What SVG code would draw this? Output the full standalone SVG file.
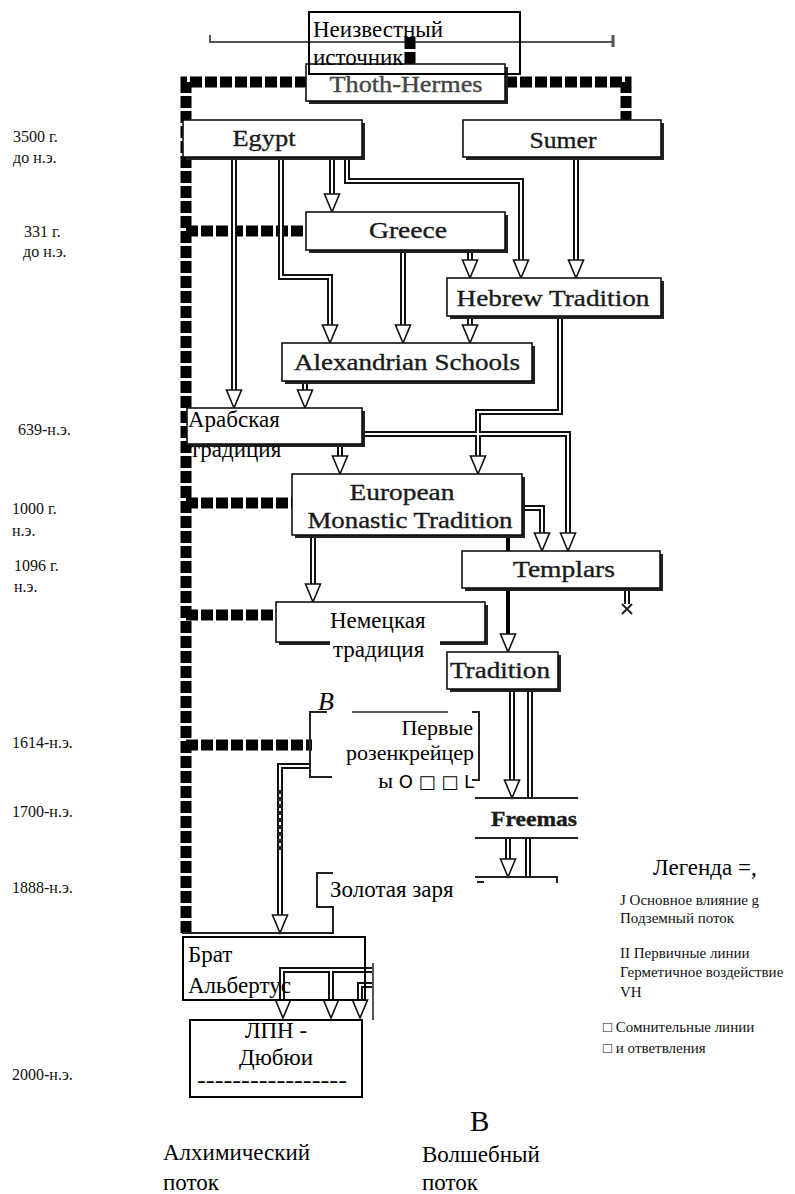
<svg xmlns="http://www.w3.org/2000/svg" xmlns:xlink="http://www.w3.org/1999/xlink" width="795" height="1194" viewBox="0 0 795 1194">
<style>
.bg{fill:#fff}
.box{fill:#fff;stroke:#111;stroke-width:1.6}
.sh{fill:#222}
.ob{fill:none;stroke:#000;stroke-width:2}
.en{font-family:"Liberation Serif","Times New Roman",serif;font-size:23px;fill:#1a1a1a;stroke:#1a1a1a;stroke-width:0.35;text-anchor:middle}
.ru{font-family:"Liberation Serif","Times New Roman",serif;font-size:23px;fill:#000}
.lbl{font-family:"Liberation Serif","Times New Roman",serif;font-size:16px;fill:#111}
.leg{font-family:"Liberation Serif","Times New Roman",serif;font-size:15px;fill:#111}
.dot{fill:none;stroke:#000;stroke-width:11;stroke-dasharray:12 3}
.dbo{fill:none;stroke:#111;stroke-width:6}
.dbi{fill:none;stroke:#fff;stroke-width:2}
.main{fill:none;stroke:#000;stroke-width:4}
.ah{fill:#fff;stroke:#111;stroke-width:1.6;stroke-linejoin:miter}
.thin{fill:none;stroke:#222;stroke-width:2}
.faint{fill:none;stroke:#555;stroke-width:2}
.sub{fill:none;stroke:#222;stroke-width:4;stroke-dasharray:4 3}
</style>
<defs>
<path id="ah" d="M-7.5,-18 H7.5 L0,0 Z"/>
</defs>
<rect class="bg" x="0" y="0" width="795" height="1194"/>

<g id="connectors">
  <path class="faint" d="M210,35 V42 H613 V35"/>
  <path class="faint" d="M613,35 V47" style="stroke-width:3"/>
  <g id="underground">
    <path class="dot" d="M186,933 V82 H306"/>
    <path class="dot" d="M505,82 H626 V127"/>
    <path class="dot" d="M410,37 V64"/>
    <path class="dot" d="M186,231 H306"/>
    <path class="dot" d="M186,503 H292"/>
    <path class="dot" d="M186,615 H276"/>
    <path class="dot" d="M186,745 H312"/>
  </g>
  <g class="dbo">
    <path id="c1" d="M234,157 V390"/>
    <path id="c2" d="M281,157 V277 H330 V325"/>
    <path id="c3" d="M332,157 V194"/>
    <path id="c4" d="M347,157 V181 H521 V260"/>
    <path id="c5" d="M576,157 V260"/>
    <path id="c6" d="M403,250 V325"/>
    <path id="c7" d="M470,250 V260"/>
    <path id="c8" d="M470,316 V325"/>
    <path id="c9" d="M560,316 V412 H478 V456"/>
    <path id="c10" d="M305,381 V390"/>
    <path id="c11" d="M340,444 V456"/>
    <path id="c12" d="M362,434 H568 V533"/>
    <path id="c13" d="M522,508 H542 V533"/>
    <path id="c14" d="M313,535 V584"/>
    <path id="c16" d="M627,588 V604"/>
    <path id="c17" d="M512,689 V780"/>
    <path id="c18" d="M530,689 V798"/>
    <path id="c19" d="M508,838 V859"/>
    <path id="c20" d="M528,838 V877"/>
    <path id="c21" d="M311,766 H280 V915"/>
    <path id="c22" d="M373,970 H282 V1000"/>
    <path id="c23" d="M331,970 V1000"/>
    <path id="c24" d="M373,985 H360 V1000"/>
  </g>
  <g class="dbi">
    <use xlink:href="#c1"/><use xlink:href="#c2"/><use xlink:href="#c3"/><use xlink:href="#c4"/>
    <use xlink:href="#c5"/><use xlink:href="#c6"/><use xlink:href="#c7"/><use xlink:href="#c8"/>
    <use xlink:href="#c9"/><use xlink:href="#c10"/><use xlink:href="#c11"/><use xlink:href="#c12"/>
    <use xlink:href="#c13"/><use xlink:href="#c14"/><use xlink:href="#c16"/><use xlink:href="#c17"/>
    <use xlink:href="#c18"/><use xlink:href="#c19"/><use xlink:href="#c20"/><use xlink:href="#c21"/>
    <use xlink:href="#c22"/><use xlink:href="#c23"/><use xlink:href="#c24"/>
  </g>
  <path class="main" d="M508,535 V634"/>
  <path class="sub" d="M280,790 V853"/>
  <path class="thin" d="M622,604 L632,614 M632,604 L622,614"/>
  <g class="ah">
    <use xlink:href="#ah" x="234" y="408"/>
    <use xlink:href="#ah" x="330" y="343"/>
    <use xlink:href="#ah" x="332" y="212"/>
    <use xlink:href="#ah" x="521" y="278"/>
    <use xlink:href="#ah" x="576" y="278"/>
    <use xlink:href="#ah" x="403" y="343"/>
    <use xlink:href="#ah" x="470" y="278"/>
    <use xlink:href="#ah" x="470" y="343"/>
    <use xlink:href="#ah" x="478" y="474"/>
    <use xlink:href="#ah" x="305" y="408"/>
    <use xlink:href="#ah" x="340" y="474"/>
    <use xlink:href="#ah" x="568" y="551"/>
    <use xlink:href="#ah" x="542" y="551"/>
    <use xlink:href="#ah" x="313" y="602"/>
    <use xlink:href="#ah" x="508" y="652"/>
    <use xlink:href="#ah" x="512" y="798"/>
    <use xlink:href="#ah" x="508" y="877"/>
    <use xlink:href="#ah" x="280" y="933"/>
    <use xlink:href="#ah" x="283" y="1018"/>
    <use xlink:href="#ah" x="331" y="1018"/>
    <use xlink:href="#ah" x="360" y="1018"/>
  </g>
  <path class="thin" d="M475,877 H557 V883 M477,882 H484"/>
  <path class="thin" d="M182,933 H333 V907 H317 V873 H333"/>
  <path class="faint" d="M373,963 V1020"/>
</g>

<g id="thoth">
  <rect class="sh" x="309" y="67" width="199" height="37"/>
  <rect class="box" x="306" y="64" width="199" height="37"/>
  <text class="en" x="406" y="92" textLength="153" lengthAdjust="spacingAndGlyphs" style="fill:#444;stroke:#444">Thoth-Hermes</text>
</g>
<g id="unknown">
  <rect class="ob" x="309" y="12" width="211" height="62"/>
  <text class="ru" x="313" y="37">Неизвестный</text>
  <text class="ru" x="313" y="65">источник</text>
</g>
<g id="egypt">
  <rect class="sh" x="186" y="123" width="179" height="37"/>
  <rect class="box" x="183" y="120" width="179" height="37"/>
  <text class="en" x="264" y="146" textLength="63" lengthAdjust="spacingAndGlyphs">Egypt</text>
</g>
<g id="sumer">
  <rect class="sh" x="466" y="123" width="198" height="37"/>
  <rect class="box" x="463" y="120" width="198" height="37"/>
  <text class="en" x="563" y="148" textLength="67" lengthAdjust="spacingAndGlyphs">Sumer</text>
</g>
<g id="greece">
  <rect class="sh" x="309" y="215" width="199" height="38"/>
  <rect class="box" x="306" y="212" width="199" height="38"/>
  <text class="en" x="408" y="238" textLength="78" lengthAdjust="spacingAndGlyphs">Greece</text>
</g>
<g id="hebrew">
  <rect class="sh" x="450" y="281" width="214" height="38"/>
  <rect class="box" x="447" y="278" width="214" height="38"/>
  <text class="en" x="553" y="306" textLength="193" lengthAdjust="spacingAndGlyphs">Hebrew Tradition</text>
</g>
<g id="alexandrian">
  <rect class="sh" x="285" y="346" width="250" height="38"/>
  <rect class="box" x="282" y="343" width="250" height="38"/>
  <text class="en" x="407" y="370" textLength="226" lengthAdjust="spacingAndGlyphs">Alexandrian Schools</text>
</g>
<g id="arabic">
  <rect class="sh" x="190" y="411" width="175" height="36"/>
  <rect class="box" x="187" y="408" width="175" height="36"/>
  <text class="ru" x="188" y="427">Арабская</text>
  <text class="ru" x="190" y="457">традиция</text>
</g>
<g id="european">
  <rect class="sh" x="295" y="477" width="230" height="61"/>
  <rect class="box" x="292" y="474" width="230" height="61"/>
  <text class="en" x="402" y="500" textLength="105" lengthAdjust="spacingAndGlyphs">European</text>
  <text class="en" x="410" y="528" textLength="205" lengthAdjust="spacingAndGlyphs">Monastic Tradition</text>
</g>
<g id="templars">
  <rect class="sh" x="465" y="554" width="198" height="37"/>
  <rect class="box" x="462" y="551" width="198" height="37"/>
  <text class="en" x="564" y="577" textLength="102" lengthAdjust="spacingAndGlyphs">Templars</text>
</g>
<g id="german">
  <rect class="sh" x="279" y="605" width="209" height="40"/>
  <rect class="box" x="276" y="602" width="209" height="40"/>
  <rect class="bg" x="330" y="640" width="110" height="26"/>
  <text class="ru" x="330" y="628">Немецкая</text>
  <text class="ru" x="333" y="657">традиция</text>
</g>
<g id="rosicrucian-tradition">
  <rect class="sh" x="450" y="655" width="111" height="37"/>
  <rect class="box" x="447" y="652" width="111" height="37"/>
  <text class="en" x="500" y="678" textLength="100" lengthAdjust="spacingAndGlyphs">Tradition</text>
</g>
<g id="first-rosicrucians">
  <path class="thin" d="M327,712 H310 V777 H332"/>
  <path class="thin" d="M472,712 H479 V780 H472"/>
  <path class="thin" d="M352,712 H448" style="stroke-width:1.5"/>
  <text x="318" y="710" style="font-family:'Liberation Serif',serif;font-size:26px;font-style:italic;fill:#000">B</text>
  <text class="ru" x="473" y="735" text-anchor="end" style="font-size:22px">Первые</text>
  <text class="ru" x="474" y="760" text-anchor="end" style="font-size:22px">розенкрейцер</text>
  <text class="ru" x="474" y="788" text-anchor="end" style="font-size:22px">ы <tspan style="font-family:'DejaVu Sans',sans-serif;font-size:18px">О □ □ L</tspan></text>
</g>
<g id="freemasonry">
  <path class="thin" d="M475,798 H578 M475,838 H578"/>
  <text class="en" x="534" y="826" textLength="86" lengthAdjust="spacingAndGlyphs" style="font-weight:bold;font-size:20px">Freemas</text>
</g>
<g id="golden-dawn">
  <text class="ru" x="330" y="897">Золотая заря</text>
</g>
<g id="brother-albertus">
  <rect class="ob" x="183" y="937" width="182" height="63"/>
  <text class="ru" x="188" y="962">Брат</text>
  <text class="ru" x="188" y="993">Альбертус</text>
</g>
<g id="lpn-dubuis">
  <rect class="ob" x="190" y="1020" width="172" height="77"/>
  <text class="ru" x="276" y="1038" text-anchor="middle">ЛПН -</text>
  <text class="ru" x="276" y="1065" text-anchor="middle">Дюбюи</text>
  <text class="ru" x="272" y="1088" text-anchor="middle" textLength="150" lengthAdjust="spacingAndGlyphs">-----------------</text>
</g>

<g id="timeline">
  <text class="lbl" x="13" y="142">3500 г.</text>
  <text class="lbl" x="13" y="163">до н.э.</text>
  <text class="lbl" x="24" y="237">331 г.</text>
  <text class="lbl" x="23" y="257">до н.э.</text>
  <text class="lbl" x="18" y="435">639-н.э.</text>
  <text class="lbl" x="12" y="514">1000 г.</text>
  <text class="lbl" x="12" y="536">н.э.</text>
  <text class="lbl" x="14" y="571">1096 г.</text>
  <text class="lbl" x="14" y="592">н.э.</text>
  <text class="lbl" x="12" y="748">1614-н.э.</text>
  <text class="lbl" x="12" y="817">1700-н.э.</text>
  <text class="lbl" x="12" y="893">1888-н.э.</text>
  <text class="lbl" x="12" y="1080">2000-н.э.</text>
</g>

<g id="legend">
  <text class="ru" x="653" y="875">Легенда =,</text>
  <text class="leg" x="620" y="905">J Основное влияние g</text>
  <text class="leg" x="620" y="923">Подземный поток</text>
  <text class="leg" x="620" y="958">II Первичные линии</text>
  <text class="leg" x="620" y="977">Герметичное воздействие</text>
  <text class="leg" x="620" y="997">VH</text>
  <text class="leg" x="603" y="1032">□ Сомнительные линии</text>
  <text class="leg" x="603" y="1053">□ и ответвления</text>
</g>

<g id="streams">
  <text x="470" y="1131" style="font-family:'Liberation Serif',serif;font-size:29px;fill:#000">B</text>
  <text class="ru" x="163" y="1160">Алхимический</text>
  <text class="ru" x="163" y="1190">поток</text>
  <text class="ru" x="422" y="1162">Волшебный</text>
  <text class="ru" x="422" y="1190">поток</text>
</g>
</svg>
